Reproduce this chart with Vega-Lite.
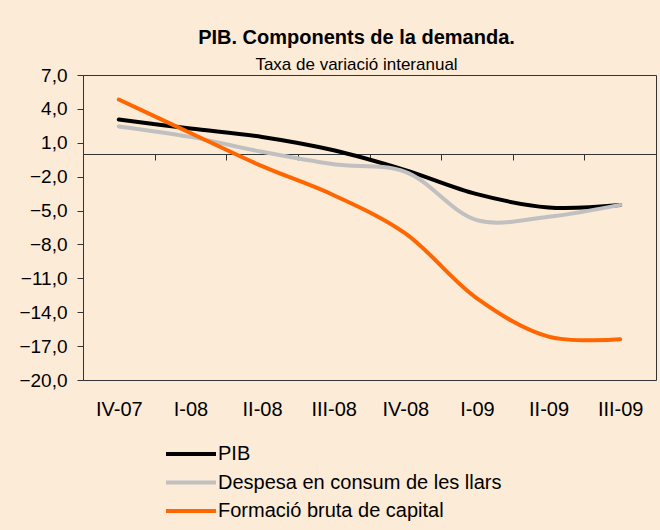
{
  "$schema": "https://vega.github.io/schema/vega-lite/v6.json",
  "width": 573,
  "height": 305,
  "autosize": {"type": "none"},
  "padding": {"left": 83, "top": 75, "right": 4, "bottom": 150},
  "background": "#FCEBD7",
  "title": {
    "text": "PIB. Components de la demanda.",
    "subtitle": "Taxa de variació interanual",
    "anchor": "middle",
    "frame": "group",
    "dx": -13,
    "offset": -7,
    "font": "Liberation Sans",
    "fontSize": 20,
    "fontWeight": "bold",
    "color": "#000000",
    "subtitleFont": "Liberation Sans",
    "subtitleFontSize": 17,
    "subtitleColor": "#000000",
    "subtitlePadding": 9
  },
  "config": {
    "view": {"stroke": "#333333", "strokeWidth": 1},
    "axis": {"labelFont": "Liberation Sans", "labelFontWeight": "normal", "labelColor": "#000000", "domainColor": "#333333", "tickColor": "#333333", "grid": false, "title": null}
  },
  "data": {
    "values": [
      {"trimestre": "IV-07", "serie": "PIB", "valor": 3.06},
      {"trimestre": "I-08", "serie": "PIB", "valor": 2.26},
      {"trimestre": "II-08", "serie": "PIB", "valor": 1.52},
      {"trimestre": "III-08", "serie": "PIB", "valor": 0.34},
      {"trimestre": "IV-08", "serie": "PIB", "valor": -1.42},
      {"trimestre": "I-09", "serie": "PIB", "valor": -3.55},
      {"trimestre": "II-09", "serie": "PIB", "valor": -4.72},
      {"trimestre": "III-09", "serie": "PIB", "valor": -4.5},
      {"trimestre": "IV-07", "serie": "Despesa en consum de les llars", "valor": 2.45},
      {"trimestre": "I-08", "serie": "Despesa en consum de les llars", "valor": 1.52},
      {"trimestre": "II-08", "serie": "Despesa en consum de les llars", "valor": 0.2},
      {"trimestre": "III-08", "serie": "Despesa en consum de les llars", "valor": -0.9},
      {"trimestre": "IV-08", "serie": "Despesa en consum de les llars", "valor": -1.57},
      {"trimestre": "I-09", "serie": "Despesa en consum de les llars", "valor": -5.85},
      {"trimestre": "II-09", "serie": "Despesa en consum de les llars", "valor": -5.55},
      {"trimestre": "III-09", "serie": "Despesa en consum de les llars", "valor": -4.5},
      {"trimestre": "IV-07", "serie": "Formació bruta de capital", "valor": 4.83},
      {"trimestre": "I-08", "serie": "Formació bruta de capital", "valor": 1.87},
      {"trimestre": "II-08", "serie": "Formació bruta de capital", "valor": -1.07},
      {"trimestre": "III-08", "serie": "Formació bruta de capital", "valor": -3.64},
      {"trimestre": "IV-08", "serie": "Formació bruta de capital", "valor": -7.02},
      {"trimestre": "I-09", "serie": "Formació bruta de capital", "valor": -12.77},
      {"trimestre": "II-09", "serie": "Formació bruta de capital", "valor": -16.16},
      {"trimestre": "III-09", "serie": "Formació bruta de capital", "valor": -16.4}
    ]
  },
  "mark": {"type": "line", "interpolate": "catmull-rom", "strokeWidth": 4, "strokeCap": "round"},
  "encoding": {
    "x": {
      "field": "trimestre",
      "type": "nominal",
      "sort": ["IV-07", "I-08", "II-08", "III-08", "IV-08", "I-09", "II-09", "III-09"],
      "bandPosition": 0.5,
      "scale": {"type": "band", "paddingInner": 0, "paddingOuter": 0},
      "axis": {
        "orient": "bottom",
        "offset": -226,
        "tickBand": "extent",
        "tickSize": 6,
        "labelPadding": 239,
        "labelFontSize": 20,
        "labelAngle": 0
      }
    },
    "y": {
      "field": "valor",
      "type": "quantitative",
      "scale": {"domain": [-20, 7], "nice": false, "zero": false},
      "axis": {
        "values": [7, 4, 1, -2, -5, -8, -11, -14, -17, -20],
        "labelExpr": "replace(format(datum.value, '.1f'), '.', ',')",
        "tickSize": 6,
        "labelPadding": 10,
        "labelFontSize": 19
      }
    },
    "color": {
      "field": "serie",
      "type": "nominal",
      "scale": {
        "domain": ["PIB", "Despesa en consum de les llars", "Formació bruta de capital"],
        "range": ["#000000", "#C0C0C0", "#FF6600"]
      },
      "legend": {
        "orient": "none",
        "legendX": 78,
        "legendY": 369,
        "title": null,
        "symbolType": "M-1,0H9",
        "symbolSize": 100,
        "symbolStrokeWidth": 4,
        "labelFont": "Liberation Sans",
        "labelFontSize": 20,
        "labelColor": "#000000",
        "labelOffset": 37,
        "labelLimit": 400,
        "rowPadding": 8.5
      }
    }
  }
}
